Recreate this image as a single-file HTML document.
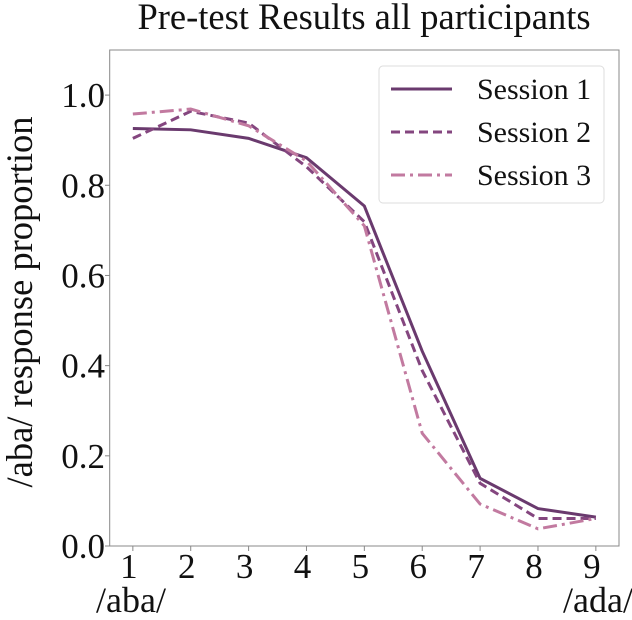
<!DOCTYPE html>
<html><head><meta charset="utf-8"><style>
body{margin:0;background:#fff}
svg text{font-family:"Liberation Serif",serif;fill:#111}
</style></head><body>
<svg id="chart" width="632" height="615" viewBox="0 0 632 615" xmlns="http://www.w3.org/2000/svg">
<text x="364" y="29" font-size="36.5" text-anchor="middle">Pre-test Results all participants</text>
<text transform="translate(32,302) rotate(-90)" font-size="36.5" text-anchor="middle">/aba/ response proportion</text>
<g id="ticks"></g>
<rect x="109.7" y="50" width="509.3" height="496" fill="none" stroke="#888" stroke-width="1"/>
<g id="lines"></g>
<text x="96" y="612" font-size="36">/aba/</text>
<text x="633" y="612" font-size="36" text-anchor="end">/ada/</text>
<g>
<rect x="379" y="66" width="225" height="137" rx="4" fill="#fff" fill-opacity="0.8" stroke="#ddd"/>
<g id="legend-items"></g>
</g>
</svg>
<script>
const categories=[1,2,3,4,5,6,7,8,9];
const session1=[0.926,0.923,0.904,0.861,0.754,0.432,0.150,0.083,0.064];
const session2=[0.904,0.964,0.938,0.841,0.719,0.389,0.139,0.061,0.061];
const session3=[0.958,0.969,0.932,0.854,0.710,0.250,0.093,0.038,0.061];
const seriesNames=["Session 1","Session 2","Session 3"];
const yTicks=[0.0,0.2,0.4,0.6,0.8,1.0];
const NS="http://www.w3.org/2000/svg";
const X=v=>109.7+(v-0.6)*(619-109.7)/8.8;
const Y=v=>546-v*496/1.1;
const styles=[{c:"#6a3a6e",d:""},{c:"#84467f",d:"9,5"},{c:"#c27aa0",d:"14,5,3,5"}];
const tk=document.getElementById('ticks');
yTicks.forEach(t=>{
  const l=document.createElementNS(NS,'line');
  
  
  l.setAttribute('x1',105);l.setAttribute('x2',109.7);l.setAttribute('y1',Y(t));l.setAttribute('y2',Y(t));l.setAttribute('stroke','#888');tk.appendChild(l);
  const s=document.createElementNS(NS,'text');
  
  
  s.setAttribute('x',105);s.setAttribute('y',Y(t)+12);s.setAttribute('font-size','35');s.setAttribute('text-anchor','end');s.textContent=t.toFixed(1);tk.appendChild(s);
});
categories.forEach(c=>{
  const l=document.createElementNS(NS,'line');
  
  
  l.setAttribute('x1',X(c));l.setAttribute('x2',X(c));l.setAttribute('y1',546);l.setAttribute('y2',551);l.setAttribute('stroke','#888');tk.appendChild(l);
  const s=document.createElementNS(NS,'text');
  
  
  s.setAttribute('x',X(c)-4);s.setAttribute('y',578);s.setAttribute('font-size','35');s.setAttribute('text-anchor','middle');s.textContent=c;tk.appendChild(s);
});
const lg=document.getElementById('lines');
[session1,session2,session3].forEach((d,i)=>{
  const p=document.createElementNS(NS,'polyline');
  
  
  p.setAttribute('points',d.map((v,j)=>X(categories[j])+','+Y(v)).join(' '));
  p.setAttribute('fill','none');p.setAttribute('stroke',styles[i].c);p.setAttribute('stroke-width','3');
  if(styles[i].d)p.setAttribute('stroke-dasharray',styles[i].d);
  lg.appendChild(p);
});
const li=document.getElementById('legend-items');
seriesNames.forEach((n,i)=>{
  const y=89+i*43;
  const l=document.createElementNS(NS,'line');
  
  
  l.setAttribute('x1',391);l.setAttribute('x2',452);l.setAttribute('y1',y);l.setAttribute('y2',y);
  l.setAttribute('stroke',styles[i].c);l.setAttribute('stroke-width','3');
  if(styles[i].d)l.setAttribute('stroke-dasharray',styles[i].d);
  li.appendChild(l);
  const t=document.createElementNS(NS,'text');
  
  
  t.setAttribute('x',477);t.setAttribute('y',y+10);t.setAttribute('font-size','30');t.textContent=n;li.appendChild(t);
});
</script>
</body></html>
